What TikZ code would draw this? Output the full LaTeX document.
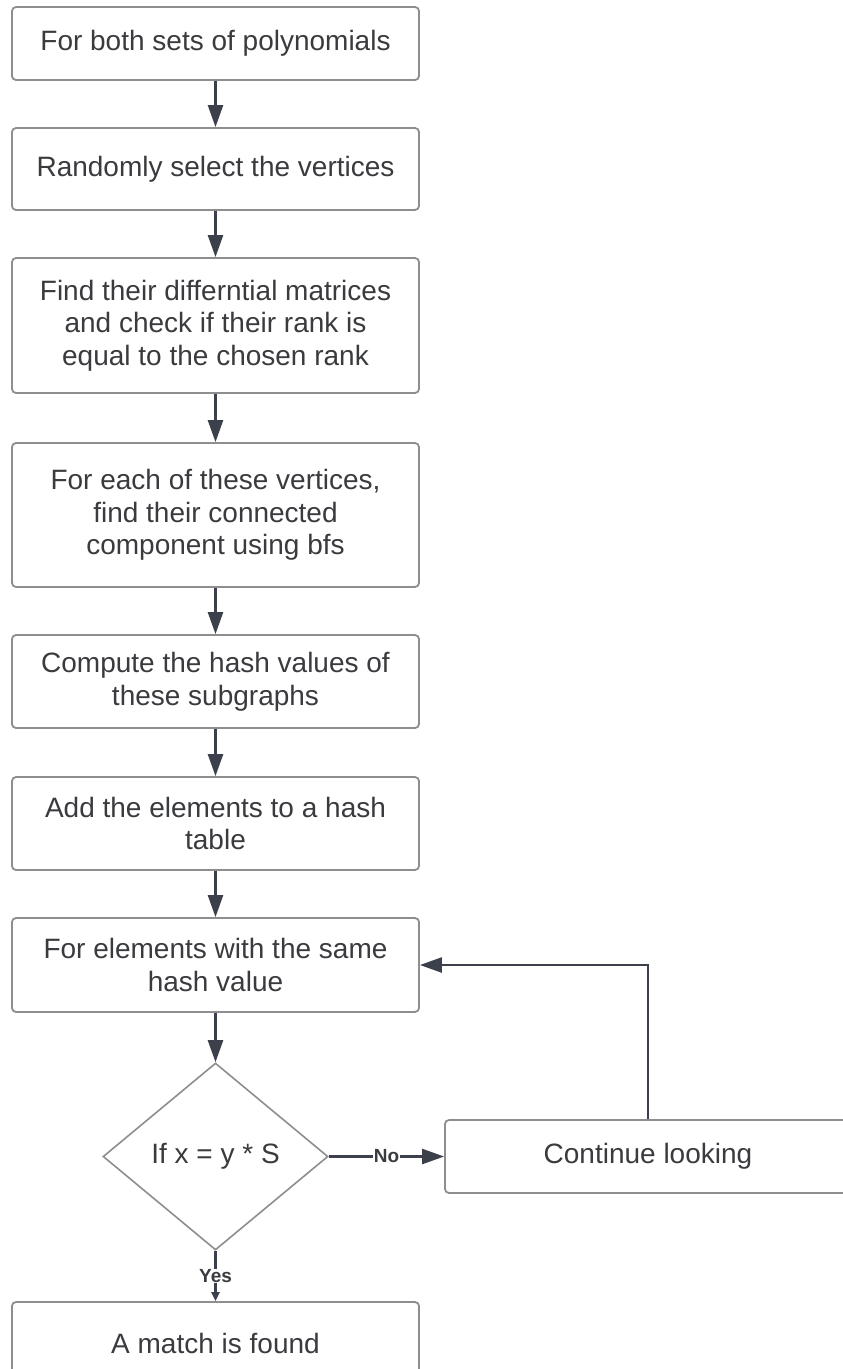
\documentclass[tikz,border=0pt]{standalone}
\usepackage{fontspec}
\setmainfont{Liberation Sans}
\usetikzlibrary{shapes.geometric,arrows.meta}
\definecolor{txt}{HTML}{3A3B3E}
\definecolor{bord}{HTML}{8E8E8E}
\definecolor{arr}{HTML}{3B404B}
\tikzset{
  box/.style={draw=bord, line width=1.8pt, rounded corners=4pt, fill=white,
    minimum width=407pt, align=center, text=txt, inner sep=0pt,
    font=\fontsize{28}{32.5}\selectfont},
  decision/.style={draw=bord, line width=1.6pt, diamond, aspect=1.2, fill=white,
    minimum width=225pt, minimum height=187pt, inner sep=0pt, text=txt,
    font=\fontsize{28}{32.5}\selectfont},
  flow/.style={draw=arr, line width=2.4pt, -{Triangle[length=22pt,width=15pt]}},
  smallflow/.style={draw=arr, line width=2.4pt, -{Triangle[length=9pt,width=8pt]}},
  lbl/.style={fill=white, inner sep=0.5pt, text=txt, font=\fontsize{19}{21}\selectfont\bfseries}
}
\begin{document}
\begin{tikzpicture}[x=1pt,y=-1pt]
\clip (0,0) rectangle (843,1369);
\fill[white] (0,0) rectangle (843,1369);
\node[box, minimum height=73pt] (b1) at (215.5,43.5) {For both sets of polynomials};
\node[box, minimum height=82pt] (b2) at (215.5,169) {Randomly select the vertices};
\node[box, minimum height=135pt] (b3) at (215.5,325.5) {Find their differntial matrices\\and check if their rank is\\equal to the chosen rank};
\node[box, minimum height=144pt] (b4) at (215.5,515) {For each of these vertices,\\find their connected\\component using bfs};
\node[box, minimum height=93pt] (b5) at (215.5,681.5) {Compute the hash values of\\these subgraphs};
\node[box, minimum height=93pt] (b6) at (215.5,823.5) {Add the elements to a hash\\table};
\node[box, minimum height=94pt] (b7) at (215.5,965) {For elements with the same\\hash value};
\node[decision] (d) at (215.5,1156.5) {If x = y * S};
\node[box, minimum height=73pt, minimum width=406pt] (cl) at (648,1156.5) {Continue looking};
\node[box, minimum height=82pt] (m) at (215.5,1343) {A match is found};

\draw[flow] (b1) -- (b2);
\draw[flow] (b2) -- (b3);
\draw[flow] (b3) -- (b4);
\draw[flow] (b4) -- (b5);
\draw[flow] (b5) -- (b6);
\draw[flow] (b6) -- (b7);
\draw[flow] (b7) -- (d);
\draw[flow] (d.east) -- node[lbl] (no) {No} (cl.west);
\draw[smallflow] (d.south) -- node[lbl, pos=0.5] (yes) {Yes} (m.north);
\draw[flow] (cl.north) |- (b7.east);
\end{tikzpicture}
\end{document}
